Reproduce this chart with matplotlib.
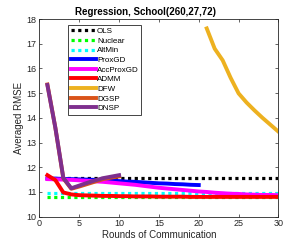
import matplotlib.pyplot as plt

plt.rcParams['font.family'] = ['Liberation Sans', 'DejaVu Sans']

# rounds of communication
rounds = list(range(1, 31))

ols = [11.55] * 30
nuclear = [10.79] * 30
altmin = [10.94] * 30

proxgd_x = list(range(1, 21))
proxgd = [11.55, 11.54, 11.53, 11.52, 11.51, 11.5, 11.49, 11.47, 11.46, 11.44,
          11.42, 11.41, 11.39, 11.37, 11.35, 11.34, 11.32, 11.31, 11.29, 11.28]

accproxgd = [11.52, 11.51, 11.5, 11.49, 11.47, 11.45, 11.43, 11.41, 11.38, 11.35,
             11.32, 11.29, 11.25, 11.21, 11.17, 11.14, 11.11, 11.08, 11.05, 11.02,
             11.0, 10.97, 10.95, 10.93, 10.92, 10.9, 10.89, 10.88, 10.88, 10.87]

admm = [11.68, 11.48, 10.98, 10.9, 10.87, 10.86, 10.85, 10.84, 10.84, 10.83,
        10.83, 10.82, 10.82, 10.82, 10.81, 10.81, 10.81, 10.81, 10.8, 10.8,
        10.8, 10.8, 10.8, 10.8, 10.8, 10.8, 10.8, 10.8, 10.8, 10.8]

dfw_x = list(range(21, 31))
dfw = [17.62, 16.8, 16.33, 15.62, 14.99, 14.62, 14.3, 14.0, 13.72, 13.44]

dsp_x = list(range(1, 11))
dgsp = [15.35, 13.6, 11.55, 11.13, 11.22, 11.32, 11.42, 11.52, 11.58, 11.63]
dnsp = [15.33, 13.6, 11.57, 11.15, 11.26, 11.37, 11.47, 11.56, 11.62, 11.68]

fig = plt.figure(figsize=(3.08, 2.44), dpi=100)
ax = fig.add_axes([0.128, 0.112, 0.776, 0.81])

dot = (0, (1, 1.1))
ax.plot(rounds, ols, color='k', lw=2.3, ls=dot, label='OLS')
ax.plot(rounds, nuclear, color='#00ff00', lw=2.3, ls=dot, label='Nuclear')
ax.plot(rounds, altmin, color='#00ffff', lw=2.3, ls=dot, label='AltMin')
ax.plot(proxgd_x, proxgd, color='#0000ff', lw=2.8, label='ProxGD')
ax.plot(rounds, accproxgd, color='#ff00ff', lw=2.8, label='AccProxGD')
ax.plot(rounds, admm, color='#ff0000', lw=2.8, label='ADMM')
ax.plot(dfw_x, dfw, color='#EDB120', lw=2.8, label='DFW')
ax.plot(dsp_x, dgsp, color='#D95319', lw=2.8, label='DGSP')
ax.plot(dsp_x, dnsp, color='#7E2F8E', lw=2.8, label='DNSP')

ax.set_xlim(0, 30)
ax.set_ylim(10, 18)
ax.set_xticks([0, 5, 10, 15, 20, 25, 30])
ax.set_yticks(range(10, 19))
ax.tick_params(direction='in', labelsize=6.5, length=2.5, width=0.5,
               top=True, right=True, colors='#262626', pad=2)
for s in ax.spines.values():
    s.set_linewidth(0.6)
    s.set_color('#262626')

ax.set_xlabel('Rounds of Communication', fontsize=7, color='#262626', labelpad=1)
ax.set_ylabel('Averaged RMSE', fontsize=7, color='#262626', labelpad=2)
ax.set_title('Regression, School(260,27,72)', fontsize=7, fontweight='bold',
             pad=3, x=0.442)

leg = ax.legend(loc='upper left', bbox_to_anchor=(0.12, 0.97), fontsize=5.8,
                handlelength=3.2, handletextpad=0.1, labelspacing=0.25,
                borderpad=0.3, fancybox=False, framealpha=1, borderaxespad=0)
leg.get_frame().set_edgecolor('#262626')
leg.get_frame().set_linewidth(0.6)

fig.savefig('out.png', dpi=100)
